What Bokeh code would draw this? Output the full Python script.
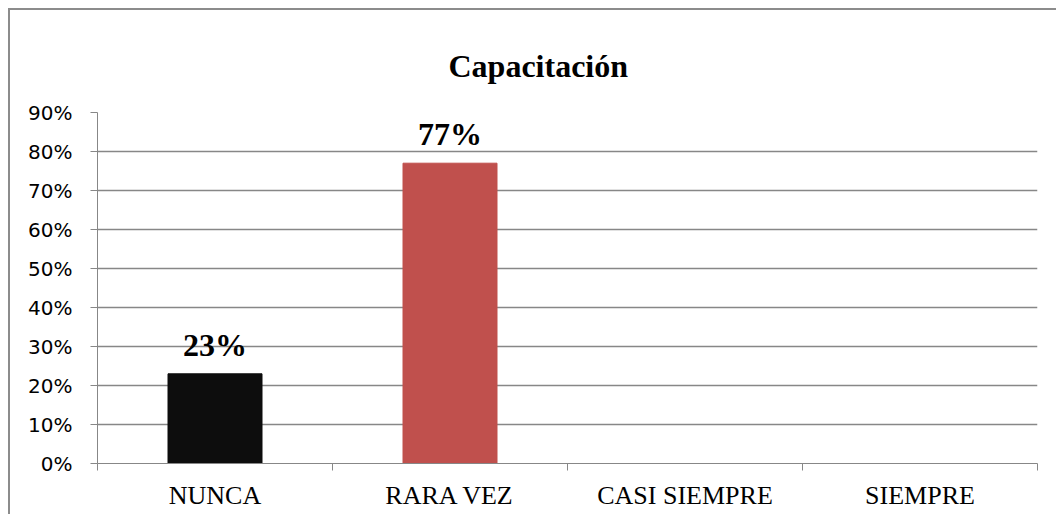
from bokeh.plotting import figure
from bokeh.models import (ColumnDataSource, Range1d, LinearAxis, Title,
                          FixedTicker, NumeralTickFormatter, LabelSet)
from bokeh.embed import file_html
from bokeh.resources import INLINE

categories = ["NUNCA", "RARA VEZ", "CASI SIEMPRE", "SIEMPRE"]
values = [0.23, 0.77, 0.0, 0.0]
colors = ["#0d0d0d", "#c0504d", "#4f81bd", "#9bbb59"]
y_ticks = [0.0, 0.1, 0.2, 0.3, 0.4, 0.5, 0.6, 0.7, 0.8, 0.9]
title_text = "Capacitación"

GRAY = "#878787"

n = len(categories)
xpos = [i + 0.5 for i in range(n)]
bounds = list(range(n + 1))
labels = [f"{round(v * 100)}%" if v > 0 else "" for v in values]
src = ColumnDataSource(dict(x=xpos, cat=categories, val=values, color=colors, label=labels))

p = figure(width=1048, height=506, output_backend="svg", toolbar_location=None,
           x_range=Range1d(0, n), y_range=Range1d(0, 0.9),
           x_axis_location=None, y_axis_location=None,
           min_border_left=87, min_border_right=21, min_border_top=102, min_border_bottom=53,
           outline_line_color=None, background_fill_color="white", border_fill_color="white",
           styles={"margin-left": "8px", "margin-top": "8px",
                   "border-left": "2px solid #8c8c8c", "border-top": "2px solid #8c8c8c"})

# title
p.add_layout(Title(text=title_text, align="left", offset=351, standoff=57,
                   text_font="Liberation Serif", text_font_style="bold",
                   text_font_size="32px", text_color="#000000"), "above")

# y axis
yax = LinearAxis(ticker=FixedTicker(ticks=y_ticks), formatter=NumeralTickFormatter(format="0%"))
yax.axis_line_color = GRAY
yax.major_tick_line_color = GRAY
yax.major_tick_out = 7
yax.major_tick_in = 0
yax.minor_tick_line_color = None
yax.major_label_standoff = 18
yax.major_label_text_font = "DejaVu Sans"
yax.major_label_text_font_size = "20px"
yax.major_label_text_color = "#000000"
p.add_layout(yax, "left")

# x axis: labels at category centres, tick marks at category boundaries
xax = LinearAxis(ticker=FixedTicker(ticks=xpos, minor_ticks=bounds),
                 major_label_overrides={x: c for x, c in zip(xpos, categories)})
xax.axis_line_color = GRAY
xax.major_tick_line_color = None
xax.major_tick_out = 0
xax.major_tick_in = 0
xax.minor_tick_line_color = GRAY
xax.minor_tick_out = 7
xax.minor_tick_in = 0
xax.major_label_standoff = 10
xax.major_label_text_font = "Liberation Serif"
xax.major_label_text_font_size = "26px"
xax.major_label_text_color = "#000000"
p.add_layout(xax, "below")

p.ygrid.grid_line_color = GRAY
p.ygrid.grid_line_width = 1.3
p.ygrid.ticker = FixedTicker(ticks=y_ticks)
p.xgrid.grid_line_color = None

p.vbar(x="x", top="val", width=0.4, color="color", source=src)

p.add_layout(LabelSet(x="x", y="val", text="label", source=src, y_offset=18,
                      text_align="center", text_baseline="alphabetic",
                      text_font="Liberation Serif", text_font_style="bold",
                      text_font_size="32px", text_color="#000000"))

open("out.html", "w").write(file_html(p, INLINE))
